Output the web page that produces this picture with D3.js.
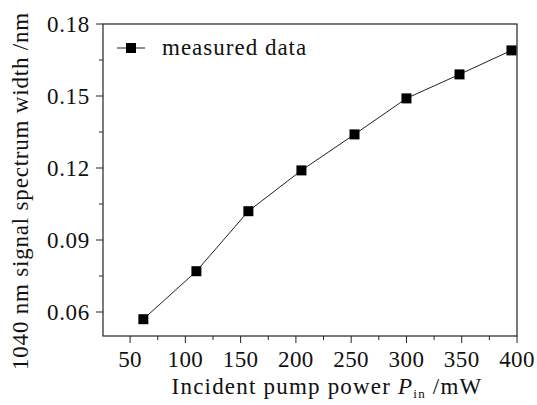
<!DOCTYPE html>
<html>
<head>
<meta charset="utf-8">
<script src="https://cdn.jsdelivr.net/npm/d3@7"></script>
<style>
  body { margin: 0; background: #fff; }
  svg text { font-family: "Liberation Serif", "Times New Roman", serif; fill: #111; }
</style>
</head>
<body>
<div id="chart"></div>
<script>
// pump power (mW) vs. 1040 nm signal spectrum width (nm)
const pumpPower = [62, 110, 157, 205, 253, 300, 348, 395];
const spectrumWidth = [0.057, 0.077, 0.102, 0.119, 0.134, 0.149, 0.159, 0.169];
const xTicks = [50, 100, 150, 200, 250, 300, 350, 400];
const yTicks = [0.06, 0.09, 0.12, 0.15, 0.18];
const seriesName = "measured data";

const W = 537, H = 405;
const margin = { top: 24, right: 20, bottom: 69, left: 103 };
const width = W - margin.left - margin.right;
const height = H - margin.top - margin.bottom;

const svg = d3.select("#chart").append("svg")
    .attr("width", W)
    .attr("height", H);

const g = svg.append("g")
    .attr("transform", `translate(${margin.left},${margin.top})`);

const x = d3.scaleLinear().domain([25.5, 400]).range([0, width]);
const y = d3.scaleLinear().domain([0.05, 0.18]).range([height, 0]);

// frame
g.append("rect")
    .attr("width", width)
    .attr("height", height)
    .attr("fill", "none")
    .attr("stroke", "#222")
    .attr("stroke-width", 1.2);

// x axis, major + minor ticks
const xAxis = g.append("g").attr("transform", `translate(0,${height})`);
xAxis.selectAll(".minor")
    .data(d3.range(75, 400, 50))
    .enter().append("line")
    .attr("x1", d => x(d)).attr("x2", d => x(d))
    .attr("y1", 0).attr("y2", 4)
    .attr("stroke", "#222");
xAxis.selectAll(".major")
    .data(xTicks)
    .enter().append("line")
    .attr("x1", d => x(d)).attr("x2", d => x(d))
    .attr("y1", 0).attr("y2", 7)
    .attr("stroke", "#222");
xAxis.selectAll("text")
    .data(xTicks)
    .enter().append("text")
    .attr("x", d => x(d))
    .attr("y", 31)
    .attr("text-anchor", "middle")
    .attr("font-size", 23)
    .attr("letter-spacing", 0.4)
    .text(d => d);

// y axis
const yAxis = g.append("g");
yAxis.selectAll(".minor")
    .data([0.075, 0.105, 0.135, 0.165])
    .enter().append("line")
    .attr("x1", -4).attr("x2", 0)
    .attr("y1", d => y(d)).attr("y2", d => y(d))
    .attr("stroke", "#222");
yAxis.selectAll(".major")
    .data(yTicks)
    .enter().append("line")
    .attr("x1", -7).attr("x2", 0)
    .attr("y1", d => y(d)).attr("y2", d => y(d))
    .attr("stroke", "#222");
yAxis.selectAll("text")
    .data(yTicks)
    .enter().append("text")
    .attr("x", -13)
    .attr("y", d => y(d))
    .attr("dy", "0.35em")
    .attr("text-anchor", "end")
    .attr("font-size", 23)
    .attr("letter-spacing", 0.7)
    .text(d => d3.format(".2f")(d));

// data line + markers
const line = d3.line()
    .x((d, i) => x(pumpPower[i]))
    .y(d => y(d));

g.append("path")
    .datum(spectrumWidth)
    .attr("d", line)
    .attr("fill", "none")
    .attr("stroke", "#222")
    .attr("stroke-width", 1);

g.selectAll(".pt")
    .data(spectrumWidth)
    .enter().append("rect")
    .attr("x", (d, i) => x(pumpPower[i]) - 5)
    .attr("y", d => y(d) - 5)
    .attr("width", 10)
    .attr("height", 10)
    .attr("fill", "#000");

// legend
const leg = g.append("g").attr("transform", "translate(14,24)");
leg.append("line")
    .attr("x1", 0).attr("x2", 28)
    .attr("stroke", "#444")
    .attr("stroke-width", 1.2);
leg.append("rect")
    .attr("x", 9).attr("y", -5)
    .attr("width", 10).attr("height", 10)
    .attr("fill", "#000");
leg.append("text")
    .attr("x", 45)
    .attr("dy", "0.32em")
    .attr("font-size", 23)
    .attr("letter-spacing", 1)
    .text(seriesName);

// axis titles
const xt = svg.append("text")
    .attr("x", 327)
    .attr("y", 394)
    .attr("text-anchor", "middle")
    .attr("font-size", 23)
    .attr("letter-spacing", 1.2);
xt.append("tspan").text("Incident pump power ");
xt.append("tspan").attr("font-style", "italic").text("P");
xt.append("tspan").attr("font-size", 13).attr("dy", 4).text("in");
xt.append("tspan").attr("dy", -4).text(" /mW");

svg.append("text")
    .attr("transform", "translate(28,191) rotate(-90)")
    .attr("text-anchor", "middle")
    .attr("font-size", 23)
    .attr("letter-spacing", 0.8)
    .text("1040 nm signal spectrum width /nm");
</script>
</body>
</html>
